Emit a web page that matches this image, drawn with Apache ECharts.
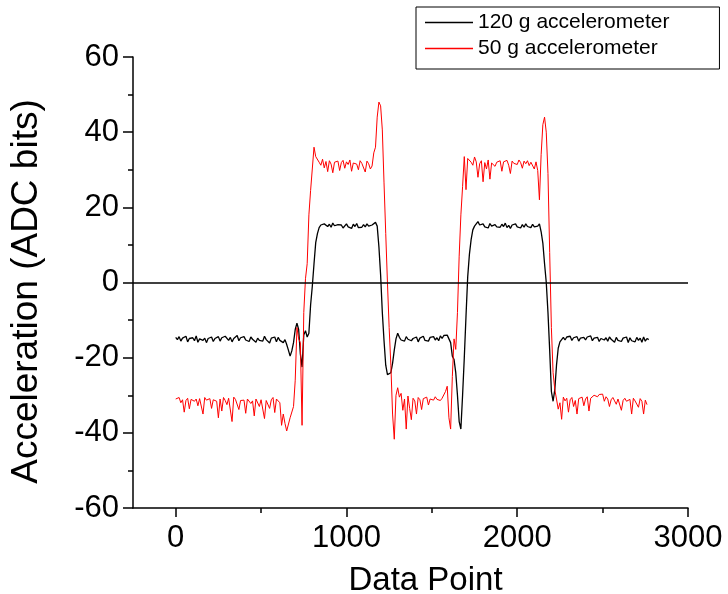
<!DOCTYPE html>
<html>
<head>
<meta charset="utf-8">
<script src="https://cdn.jsdelivr.net/npm/echarts@6/dist/echarts.min.js"></script>
<style>html,body{margin:0;padding:0;background:#fff}#c{width:728px;height:594px}</style>
</head>
<body>
<div id="c"></div>
<script>
// Data point index step (one value per 10 data points)
var startPoint = 0;
var pointStep = 10;

var seriesNames = ['120 g accelerometer', '50 g accelerometer'];

var accel120 = [
  -14.6,-15.2,-14.4,-15.6,-14.8,-15.1,-14.3,-15.8,-14.9,-15.3,
  -14.7,-15.5,-14.2,-15.9,-15.0,-14.6,-15.4,-14.8,-16.0,-14.9,
  -15.3,-14.5,-15.7,-14.9,-15.2,-14.4,-15.6,-14.7,-15.1,-14.3,
  -14.8,-15.4,-14.6,-15.8,-14.9,-15.2,-14.1,-15.5,-14.7,-15.0,
  -14.4,-15.3,-14.8,-15.7,-14.5,-15.1,-14.6,-15.9,-14.8,-15.4,
  -14.9,-15.6,-14.3,-15.2,-14.7,-16.1,-14.8,-15.3,-14.5,-15.8,
  -14.6,-15.4,-14.9,-16.0,-15.2,-16.5,-18.0,-19.6,-18.2,-16.0,
  -12.5,-10.8,-12.5,-19.0,-22.5,-14.0,-12.8,-14.5,-13.5,-6.0,
  -1.0,5.0,10.6,13.0,14.6,15.3,14.8,15.6,15.2,14.9,
  15.5,14.7,15.8,15.1,14.6,15.4,14.9,15.3,14.5,15.0,
  15.6,14.8,15.2,14.4,15.5,14.9,15.7,14.6,15.1,14.7,
  15.4,14.8,15.6,15.0,14.6,15.3,14.9,16.0,15.0,9.5,
  2.0,-8.0,-15.5,-22.0,-24.5,-25.0,-24.0,-21.5,-18.0,-15.0,
  -13.5,-14.6,-15.3,-14.8,-15.6,-14.4,-15.1,-14.7,-15.5,-14.9,
  -15.2,-14.5,-15.8,-14.8,-15.0,-14.3,-15.4,-14.9,-15.6,-14.6,
  -15.1,-14.4,-15.3,-14.7,-15.5,-14.2,-14.9,-14.1,-14.6,-14.0,
  -14.0,-16.0,-19.6,-20.5,-24.0,-30.0,-37.0,-39.0,-30.0,-20.0,
  -9.0,1.5,7.5,11.4,14.0,15.0,15.6,16.2,15.3,14.9,
  15.6,14.8,15.2,14.5,15.7,15.0,14.6,15.4,14.8,15.3,
  14.7,15.5,14.9,15.8,14.6,15.2,14.4,15.3,14.9,15.6,
  14.8,15.1,14.5,15.4,14.7,15.6,14.9,15.2,14.6,15.5,
  14.8,15.3,15.0,15.6,13.5,10.5,5.0,0.0,-8.0,-18.0,
  -29.0,-31.6,-28.5,-22.0,-17.5,-15.8,-15.2,-14.6,-15.3,-14.5,
  -15.0,-14.3,-15.4,-14.7,-15.2,-14.4,-15.6,-14.8,-15.1,-14.6,
  -15.3,-14.5,-15.0,-14.2,-15.5,-14.8,-15.2,-14.6,-15.7,-14.9,
  -14.4,-15.3,-14.7,-15.6,-14.5,-15.1,-14.8,-15.9,-14.6,-15.4,
  -14.9,-15.7,-14.8,-15.3,-14.5,-16.0,-14.7,-15.5,-15.0,-15.8,
  -14.6,-15.4,-14.8,-15.9,-14.5,-15.6,-14.9,-15.2
];

var accel50 = [
  -31.0,-31.5,-30.6,-32.0,-31.2,-34.5,-31.4,-30.8,-33.6,-31.1,
  -30.7,-31.6,-31.0,-32.8,-30.9,-31.4,-35.0,-30.6,-31.3,-31.8,
  -30.9,-33.5,-31.2,-30.7,-31.6,-36.0,-31.0,-34.2,-30.6,-31.4,
  -32.5,-30.8,-31.2,-37.0,-30.5,-31.1,-30.7,-33.8,-31.4,-30.9,
  -31.3,-34.8,-31.0,-30.6,-32.2,-31.5,-35.5,-31.0,-30.7,-33.0,
  -31.2,-30.8,-36.2,-31.4,-30.9,-33.5,-31.2,-30.6,-34.6,-31.0,
  -30.8,-32.0,-38.0,-35.0,-37.5,-39.5,-39.0,-36.0,-36.0,-33.0,
  -26.0,-12.0,-15.0,-16.0,-38.0,-8.0,1.0,5.0,18.0,24.5,
  25.0,36.0,33.5,34.0,32.0,31.2,32.8,30.5,32.2,29.5,
  32.4,31.5,29.2,32.0,31.6,32.3,29.8,31.9,32.5,30.4,
  32.1,31.4,32.6,29.6,31.8,32.2,31.5,30.0,32.4,31.7,
  32.0,29.4,32.3,31.6,30.2,31.0,34.5,36.0,44.0,48.0,
  47.0,40.6,26.5,13.0,0.0,-12.0,-22.0,-35.0,-41.7,-30.0,
  -28.0,-30.5,-29.5,-34.0,-31.0,-39.0,-30.2,-33.5,-36.5,-30.8,
  -31.5,-35.0,-30.6,-31.2,-33.8,-30.9,-31.4,-30.5,-32.6,-31.0,
  -30.7,-31.3,-30.4,-31.1,-30.6,-31.4,-30.8,-30.5,-29.0,-27.6,
  -36.0,-39.0,-25.0,-15.0,-17.8,-8.0,7.0,18.0,25.5,33.5,
  24.7,33.0,33.5,32.0,31.2,33.4,32.1,28.0,31.6,32.4,
  26.8,31.9,30.2,32.6,27.5,31.8,32.3,30.9,32.0,31.5,
  32.4,29.6,32.1,31.8,32.5,31.2,29.0,32.3,31.7,32.2,
  31.4,32.6,31.9,30.4,32.3,31.6,32.4,31.1,32.0,31.8,
  30.2,32.1,29.8,22.0,34.0,42.0,44.0,40.0,29.0,8.0,
  -12.0,-24.0,-28.5,-31.0,-33.7,-32.0,-36.4,-30.5,-31.5,-30.8,
  -34.5,-31.2,-30.6,-33.0,-31.4,-35.0,-30.9,-31.3,-30.5,-32.8,
  -31.0,-30.4,-34.2,-30.8,-31.2,-30.0,-29.6,-30.4,-29.8,-30.2,
  -29.7,-31.6,-30.4,-31.0,-33.0,-31.2,-30.6,-31.5,-32.4,-31.0,
  -30.7,-34.0,-31.4,-30.8,-31.6,-32.0,-31.1,-35.0,-30.8,-31.5,
  -31.2,-33.2,-30.9,-31.6,-35.0,-31.3,-32.5
];

var xTickValues = [0, 1000, 2000, 3000];
var xMinorTickValues = [500, 1500, 2500];

function toPairs(vals) {
  var out = [];
  for (var i = 0; i < vals.length; i++) out.push([startPoint + i * pointStep, vals[i]]);
  return out;
}
function plain(v) { return String(v); }

var font = 'Liberation Sans, Arial, sans-serif';
var chart = echarts.init(document.getElementById('c'), null, {renderer: 'canvas'});
chart.setOption({
  animation: false,
  backgroundColor: '#fff',
  grid: {left: 133, right: 40, top: 57, bottom: 86, containLabel: false, outerBoundsMode: 'none'},
  legend: {
    orient: 'vertical',
    left: 416, top: 7,
    padding: [5, 50, 10, 9],
    itemGap: 5,
    itemWidth: 48, itemHeight: 1.5,
    icon: 'rect',
    borderColor: '#000', borderWidth: 1,
    textStyle: {fontFamily: font, fontSize: 21, color: '#000'},
    data: seriesNames
  },
  xAxis: [{
    type: 'value', min: -250, max: 3000,
    position: 'bottom',
    axisLine: {onZero: false, lineStyle: {color: '#000', width: 1.5}},
    axisTick: {customValues: xTickValues, length: 9, lineStyle: {color: '#000', width: 1.5}},
    axisLabel: {customValues: xTickValues, formatter: plain, fontFamily: font, fontSize: 31, color: '#000', margin: 15},
    splitLine: {show: false},
    name: 'Data Point', nameLocation: 'middle', nameGap: 56,
    nameTextStyle: {fontFamily: font, fontSize: 33, color: '#000', padding: [0, 0, 0, 30]}
  }, {
    type: 'value', min: -250, max: 3000,
    position: 'bottom', offset: 0,
    axisLine: {show: false, onZero: false},
    axisTick: {customValues: xMinorTickValues, length: 5, lineStyle: {color: '#000', width: 1.5}},
    axisLabel: {show: false},
    splitLine: {show: false}
  }],
  yAxis: {
    type: 'value', min: -60, max: 60, interval: 20,
    axisLine: {show: true, onZero: false, lineStyle: {color: '#000', width: 1.5}},
    axisTick: {show: true, length: 10, lineStyle: {color: '#000', width: 1.5}},
    minorTick: {show: true, splitNumber: 2, length: 5, lineStyle: {color: '#000', width: 1.5}},
    axisLabel: {formatter: plain, fontFamily: font, fontSize: 31, color: '#000', margin: 14},
    splitLine: {show: false},
    name: 'Acceleration (ADC bits)', nameLocation: 'middle', nameGap: 88,
    nameTextStyle: {fontFamily: font, fontSize: 37, color: '#000', padding: [0, 18, 0, 0]}
  },
  series: [{
    name: seriesNames[0], type: 'line', data: toPairs(accel120),
    symbol: 'none', showSymbol: false,
    lineStyle: {color: '#000', width: 1.3}, itemStyle: {color: '#000'},
    markLine: {
      silent: true, symbol: ['none', 'none'],
      label: {show: false},
      lineStyle: {color: '#000', width: 1.5, type: 'solid'},
      data: [{yAxis: 0}]
    }
  }, {
    name: seriesNames[1], type: 'line', data: toPairs(accel50),
    symbol: 'none', showSymbol: false,
    lineStyle: {color: '#ff0000', width: 1}, itemStyle: {color: '#ff0000'}
  }]
});
</script>
</body>
</html>
